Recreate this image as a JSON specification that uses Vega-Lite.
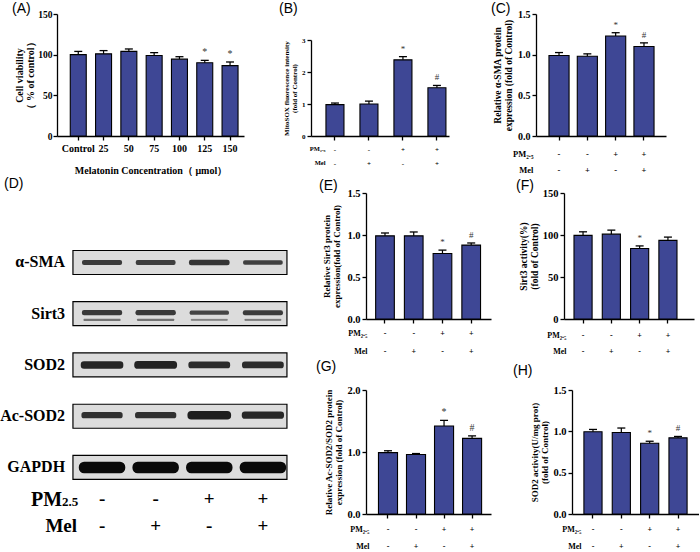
{
  "$schema": "https://vega.github.io/schema/vega-lite/v6.json",
  "padding": {"top": 2, "left": 0, "right": 0, "bottom": 0},
  "columns": 3,
  "align": "each",
  "bounds": "flush",
  "spacing": {"row": 57, "column": 72},
  "config": {
    "view": {"stroke": null},
    "font": "Liberation Serif",
    "axis": {"domainColor": "#000", "domainWidth": 1.3, "tickColor": "#000", "tickWidth": 1.3, "tickSize": 4, "labelColor": "#000", "titleColor": "#000", "labelFontWeight": "bold", "titleFontWeight": "bold", "grid": false, "labelFont": "Liberation Serif", "titleFont": "Liberation Serif"},
    "axisX": {"labelAngle": 0},
    "title": {"font": "Liberation Sans", "fontWeight": "normal", "fontSize": 14, "anchor": "start", "frame": "group", "color": "#000"}
  },
  "datasets": {
    "A": [
      {"conc": "Control", "value": 100, "upper": 104, "sig": ""},
      {"conc": "25", "value": 101, "upper": 105, "sig": ""},
      {"conc": "50", "value": 104, "upper": 107, "sig": ""},
      {"conc": "75", "value": 99, "upper": 102.5, "sig": ""},
      {"conc": "100", "value": 94.5, "upper": 97.5, "sig": ""},
      {"conc": "125", "value": 90, "upper": 93, "sig": "*"},
      {"conc": "150", "value": 86.5, "upper": 91, "sig": "*"}
    ],
    "B": [
      {"cond": "-|-", "value": 0.98, "upper": 1.03, "sig": ""},
      {"cond": "-|+", "value": 1.0, "upper": 1.09, "sig": ""},
      {"cond": "+|-", "value": 2.38, "upper": 2.48, "sig": "*"},
      {"cond": "+|+", "value": 1.51, "upper": 1.58, "sig": "#"}
    ],
    "C": [
      {"cond": "-|-", "value": 0.99, "upper": 1.026, "sig": ""},
      {"cond": "-|+", "value": 0.98, "upper": 1.01, "sig": ""},
      {"cond": "+|-", "value": 1.23, "upper": 1.27, "sig": "*"},
      {"cond": "+|+", "value": 1.1, "upper": 1.145, "sig": "#"}
    ],
    "E": [
      {"cond": "-|-", "value": 0.99, "upper": 1.024, "sig": ""},
      {"cond": "-|+", "value": 0.99, "upper": 1.036, "sig": ""},
      {"cond": "+|-", "value": 0.78, "upper": 0.82, "sig": "*"},
      {"cond": "+|+", "value": 0.88, "upper": 0.905, "sig": "#"}
    ],
    "F": [
      {"cond": "-|-", "value": 99.5, "upper": 103.8, "sig": ""},
      {"cond": "-|+", "value": 101, "upper": 105.8, "sig": ""},
      {"cond": "+|-", "value": 84, "upper": 87, "sig": "*"},
      {"cond": "+|+", "value": 93.6, "upper": 97.5, "sig": ""}
    ],
    "G": [
      {"cond": "-|-", "value": 0.99, "upper": 1.02, "sig": ""},
      {"cond": "-|+", "value": 0.96, "upper": 0.975, "sig": ""},
      {"cond": "+|-", "value": 1.42, "upper": 1.51, "sig": "*"},
      {"cond": "+|+", "value": 1.22, "upper": 1.26, "sig": "#"}
    ],
    "H": [
      {"cond": "-|-", "value": 0.995, "upper": 1.023, "sig": ""},
      {"cond": "-|+", "value": 0.985, "upper": 1.04, "sig": ""},
      {"cond": "+|-", "value": 0.856, "upper": 0.88, "sig": "*"},
      {"cond": "+|+", "value": 0.921, "upper": 0.938, "sig": "#"}
    ],
    "blots": [
      {"protein": "α-SMA", "order": 1},
      {"protein": "Sirt3", "order": 2},
      {"protein": "SOD2", "order": 3},
      {"protein": "Ac-SOD2", "order": 4},
      {"protein": "GAPDH", "order": 5}
    ],
    "bands": [
      {"protein": "α-SMA", "order": 1, "lane": 1, "intensity": 0.34},
      {"protein": "α-SMA", "order": 1, "lane": 2, "intensity": 0.32},
      {"protein": "α-SMA", "order": 1, "lane": 3, "intensity": 0.4},
      {"protein": "α-SMA", "order": 1, "lane": 4, "intensity": 0.3},
      {"protein": "Sirt3", "order": 1.98, "lane": 1, "intensity": 0.36},
      {"protein": "Sirt3", "order": 1.98, "lane": 2, "intensity": 0.36},
      {"protein": "Sirt3", "order": 1.98, "lane": 3, "intensity": 0.26},
      {"protein": "Sirt3", "order": 1.98, "lane": 4, "intensity": 0.34},
      {"protein": "Sirt3", "order": 2.12, "lane": 1, "intensity": 0.05},
      {"protein": "Sirt3", "order": 2.12, "lane": 2, "intensity": 0.05},
      {"protein": "Sirt3", "order": 2.12, "lane": 3, "intensity": 0.03},
      {"protein": "Sirt3", "order": 2.12, "lane": 4, "intensity": 0.04},
      {"protein": "SOD2", "order": 3, "lane": 1, "intensity": 0.58},
      {"protein": "SOD2", "order": 3, "lane": 2, "intensity": 0.6},
      {"protein": "SOD2", "order": 3, "lane": 3, "intensity": 0.5},
      {"protein": "SOD2", "order": 3, "lane": 4, "intensity": 0.5},
      {"protein": "Ac-SOD2", "order": 3.98, "lane": 1, "intensity": 0.45},
      {"protein": "Ac-SOD2", "order": 3.98, "lane": 2, "intensity": 0.45},
      {"protein": "Ac-SOD2", "order": 3.98, "lane": 3, "intensity": 0.68},
      {"protein": "Ac-SOD2", "order": 3.98, "lane": 4, "intensity": 0.55},
      {"protein": "GAPDH", "order": 5, "lane": 1, "intensity": 0.95},
      {"protein": "GAPDH", "order": 5, "lane": 2, "intensity": 0.95},
      {"protein": "GAPDH", "order": 5, "lane": 3, "intensity": 0.95},
      {"protein": "GAPDH", "order": 5, "lane": 4, "intensity": 0.95}
    ],
    "treat": [
      {"lane": 1, "pm": "-", "mel": "-"},
      {"lane": 2, "pm": "-", "mel": "+"},
      {"lane": 3, "pm": "+", "mel": "-"},
      {"lane": 4, "pm": "+", "mel": "+"}
    ]
  },
  "concat": [
    {
      "width": 187, "height": 129,
      "title": {"text": "(A)", "dx": -45, "offset": -9},
      "data": {"name": "A"},
      "encoding": {
        "x": {"field": "conc", "type": "nominal", "sort": null,
          "scale": {"domain": ["Control", "25", "50", "75", "100", "125", "150"], "paddingInner": 0.368, "paddingOuter": 0.38, "align": 0.69},
          "axis": {"labelFontSize": 10, "labelPadding": 3, "title": "Melatonin Concentration（ μmol）", "titleFontSize": 10, "titlePadding": 12}}
      },
      "layer": [
        {"mark": {"type": "bar", "fill": "#3e4795", "stroke": "#000", "strokeWidth": 1.1},
         "encoding": {"y": {"field": "value", "type": "quantitative", "scale": {"domain": [0, 150], "nice": false, "range": [129, 7]},
           "axis": {"values": [0, 50, 100, 150], "labelFontSize": 9.5, "labelPadding": 1, "title": ["Cell viability", "（ % of control）"], "titleFontSize": 10, "titleLineHeight": 11, "titlePadding": 2}}}},
        {"mark": {"type": "rule", "strokeWidth": 1.2, "color": "#000"}, "encoding": {"y": {"field": "value", "type": "quantitative"}, "y2": {"field": "upper"}}},
        {"mark": {"type": "tick", "orient": "horizontal", "size": 8, "thickness": 1.3, "color": "#000", "opacity": 1}, "encoding": {"y": {"field": "upper", "type": "quantitative"}}},
        {"mark": {"type": "text", "dy": -8, "baseline": "middle", "fontSize": 10, "color": "#333"}, "encoding": {"y": {"field": "upper", "type": "quantitative"}, "text": {"field": "sig"}}}
      ]
    },
    {
      "width": 126, "height": 129,
      "title": {"text": "(B)", "dx": -87, "offset": -9},
      "data": {"name": "B"},
      "encoding": {
        "x": {"field": "cond", "type": "nominal", "sort": null,
          "scale": {"domain": ["-|-", "-|+", "+|-", "+|+"], "range": [-55, 83], "paddingInner": 0.47, "paddingOuter": 0.265, "align": 0.83},
          "axis": {"labelExpr": "split(datum.label, '|')", "labelFontSize": 7, "labelLineHeight": 14, "labelPadding": 5.5, "labelBaseline": "top",
            "title": ["PM₂.₅", "Mel"], "titleFontSize": 6.5, "titleLineHeight": 14, "titleX": -41, "titleY": 9.5, "titleAlign": "right", "titleBaseline": "top", "titleAngle": 0}}
      },
      "layer": [
        {"mark": {"type": "bar", "fill": "#3e4795", "stroke": "#000", "strokeWidth": 1.1},
         "encoding": {"y": {"field": "value", "type": "quantitative", "scale": {"domain": [0, 3], "nice": false, "range": [129, 33]},
           "axis": {"offset": 55, "values": [0, 1, 2, 3], "labelFontSize": 7, "labelPadding": 2, "title": ["MitoSOX  fluorescence intensity", "(fold of Control)"], "titleFontSize": 7, "titleLineHeight": 8, "titlePadding": 4}}}},
        {"mark": {"type": "rule", "strokeWidth": 1.2, "color": "#000"}, "encoding": {"y": {"field": "value", "type": "quantitative"}, "y2": {"field": "upper"}}},
        {"mark": {"type": "tick", "orient": "horizontal", "size": 8, "thickness": 1.3, "color": "#000", "opacity": 1}, "encoding": {"y": {"field": "upper", "type": "quantitative"}}},
        {"mark": {"type": "text", "dy": -8, "baseline": "middle", "fontSize": 9, "color": "#333"}, "encoding": {"y": {"field": "upper", "type": "quantitative"}, "text": {"field": "sig"}}}
      ]
    },
    {
      "width": 126, "height": 129,
      "title": {"text": "(C)", "dx": -73, "offset": -9},
      "data": {"name": "C"},
      "encoding": {
        "x": {"field": "cond", "type": "nominal", "sort": null,
          "scale": {"domain": ["-|-", "-|+", "+|-", "+|+"], "range": [-28, 102], "paddingInner": 0.29, "paddingOuter": 0.44, "align": 0.52},
          "axis": {"labelExpr": "split(datum.label, '|')", "labelFontSize": 8.5, "labelLineHeight": 16, "labelPadding": 9, "labelBaseline": "top",
            "title": ["PM₂.₅", "Mel"], "titleFontSize": 8.5, "titleLineHeight": 16, "titleX": -31, "titleY": 13, "titleAlign": "right", "titleBaseline": "top", "titleAngle": 0}}
      },
      "layer": [
        {"mark": {"type": "bar", "fill": "#3e4795", "stroke": "#000", "strokeWidth": 1.1},
         "encoding": {"y": {"field": "value", "type": "quantitative", "scale": {"domain": [0, 1.5], "nice": false, "range": [129, 7]},
           "axis": {"offset": 28, "values": [0, 0.5, 1, 1.5], "format": ".1f", "labelFontSize": 10, "labelPadding": 2, "title": ["Relative α-SMA protein", "expression (fold of Control)"], "titleFontSize": 9.5, "titleLineHeight": 11, "titlePadding": 4}}}},
        {"mark": {"type": "rule", "strokeWidth": 1.2, "color": "#000"}, "encoding": {"y": {"field": "value", "type": "quantitative"}, "y2": {"field": "upper"}}},
        {"mark": {"type": "tick", "orient": "horizontal", "size": 8, "thickness": 1.3, "color": "#000", "opacity": 1}, "encoding": {"y": {"field": "upper", "type": "quantitative"}}},
        {"mark": {"type": "text", "dy": -8, "baseline": "middle", "fontSize": 9, "color": "#333"}, "encoding": {"y": {"field": "upper", "type": "quantitative"}, "text": {"field": "sig"}}}
      ]
    },
    {
      "width": 237, "height": 126,
      "title": {"text": "(D)", "dx": -53, "offset": 2},
      "layer": [
        {"data": {"name": "blots"}, "transform": [{"filter": "datum.order <= 3"}],
         "mark": {"type": "tick", "orient": "horizontal", "size": 214, "thickness": 24, "fill": "#dcdcdc", "stroke": "#000", "strokeWidth": 1.2, "opacity": 1},
         "encoding": {
           "x": {"datum": 2.453, "type": "quantitative", "scale": {"domain": [0.16, 4.58], "nice": false, "zero": false}, "axis": null},
           "y": {"field": "order", "type": "quantitative", "scale": {"domain": [-0.356, 2.103], "reverse": true, "nice": false, "zero": false}, "axis": null}}},
        {"data": {"name": "bands"}, "transform": [{"filter": "datum.order <= 3"}],
         "mark": {"type": "tick", "orient": "horizontal", "size": 36, "thickness": 1, "strokeJoin": "round", "opacity": 1},
         "encoding": {
           "x": {"field": "lane", "type": "quantitative"},
           "y": {"field": "order", "type": "quantitative"},
           "color": {"field": "intensity", "type": "quantitative", "scale": {"type": "pow", "exponent": 0.4, "domain": [0, 1], "range": ["#a8a8a8", "#050505"]}, "legend": null},
           "stroke": {"field": "intensity", "type": "quantitative", "scale": {"type": "pow", "exponent": 0.4, "domain": [0, 1], "range": ["#a8a8a8", "#050505"]}, "legend": null},
           "strokeWidth": {"field": "intensity", "type": "quantitative", "scale": {"domain": [0, 1], "range": [0.5, 11]}, "legend": null}}},
        {"data": {"name": "blots"}, "transform": [{"filter": "datum.order <= 3"}],
         "mark": {"type": "text", "align": "right", "baseline": "middle", "fontSize": 16, "fontWeight": "bold"},
         "encoding": {"x": {"datum": 0.311, "type": "quantitative"}, "y": {"field": "order", "type": "quantitative"}, "text": {"field": "protein"}}}
      ]
    },
    {
      "width": 126, "height": 126,
      "title": {"text": "(E)", "dx": -47, "offset": -5},
      "data": {"name": "E"},
      "encoding": {
        "x": {"field": "cond", "type": "nominal", "sort": null,
          "scale": {"domain": ["-|-", "-|+", "+|-", "+|+"], "range": [0, 125], "paddingInner": 0.35, "paddingOuter": 0.35, "align": 0.48},
          "axis": {"labelExpr": "split(datum.label, '|')", "labelFontSize": 8, "labelLineHeight": 18, "labelPadding": 6, "labelBaseline": "top",
            "title": ["PM₂.₅", "Mel"], "titleFontSize": 8, "titleLineHeight": 18, "titleX": 1, "titleY": 10, "titleAlign": "right", "titleBaseline": "top", "titleAngle": 0}}
      },
      "layer": [
        {"mark": {"type": "bar", "fill": "#3e4795", "stroke": "#000", "strokeWidth": 1.1},
         "encoding": {"y": {"field": "value", "type": "quantitative", "scale": {"domain": [0, 1.5], "nice": false},
           "axis": {"values": [0, 0.5, 1, 1.5], "format": ".1f", "labelFontSize": 10.5, "labelPadding": 2, "title": ["Relative Sirt3 protein", "expression(fold of Control)"], "titleFontSize": 9, "titleLineHeight": 10.5, "titlePadding": 5}}}},
        {"mark": {"type": "rule", "strokeWidth": 1.2, "color": "#000"}, "encoding": {"y": {"field": "value", "type": "quantitative"}, "y2": {"field": "upper"}}},
        {"mark": {"type": "tick", "orient": "horizontal", "size": 8, "thickness": 1.3, "color": "#000", "opacity": 1}, "encoding": {"y": {"field": "upper", "type": "quantitative"}}},
        {"mark": {"type": "text", "dy": -8, "baseline": "middle", "fontSize": 9, "color": "#333"}, "encoding": {"y": {"field": "upper", "type": "quantitative"}, "text": {"field": "sig"}}}
      ]
    },
    {
      "width": 130, "height": 126,
      "title": {"text": "(F)", "dx": -48, "offset": -5},
      "data": {"name": "F"},
      "encoding": {
        "x": {"field": "cond", "type": "nominal", "sort": null,
          "scale": {"domain": ["-|-", "-|+", "+|-", "+|+"], "paddingInner": 0.36, "paddingOuter": 0.477, "align": 0.37},
          "axis": {"labelExpr": "split(datum.label, '|')", "labelFontSize": 8, "labelLineHeight": 16, "labelPadding": 8, "labelBaseline": "top",
            "title": ["PM₂.₅", "Mel"], "titleFontSize": 8, "titleLineHeight": 16, "titleX": 2, "titleY": 12, "titleAlign": "right", "titleBaseline": "top", "titleAngle": 0}}
      },
      "layer": [
        {"mark": {"type": "bar", "fill": "#3e4795", "stroke": "#000", "strokeWidth": 1.1},
         "encoding": {"y": {"field": "value", "type": "quantitative", "scale": {"domain": [0, 150], "nice": false},
           "axis": {"values": [0, 50, 100, 150], "labelFontSize": 10.5, "labelPadding": 2, "title": ["Sirt3 activity(%)", "(fold of Control)"], "titleFontSize": 9.5, "titleLineHeight": 11, "titlePadding": 3}}}},
        {"mark": {"type": "rule", "strokeWidth": 1.2, "color": "#000"}, "encoding": {"y": {"field": "value", "type": "quantitative"}, "y2": {"field": "upper"}}},
        {"mark": {"type": "tick", "orient": "horizontal", "size": 8, "thickness": 1.3, "color": "#000", "opacity": 1}, "encoding": {"y": {"field": "upper", "type": "quantitative"}}},
        {"mark": {"type": "text", "dy": -8, "baseline": "middle", "fontSize": 9, "color": "#333"}, "encoding": {"y": {"field": "upper", "type": "quantitative"}, "text": {"field": "sig"}}}
      ]
    },
    {
      "width": 237, "height": 138,
      "layer": [
        {"data": {"name": "blots"}, "transform": [{"filter": "datum.order > 3"}],
         "mark": {"type": "tick", "orient": "horizontal", "size": 214, "thickness": 24, "fill": "#dcdcdc", "stroke": "#000", "strokeWidth": 1.2, "opacity": 1},
         "encoding": {
           "x": {"datum": 2.453, "type": "quantitative", "scale": {"domain": [0.16, 4.58], "nice": false, "zero": false}, "axis": null},
           "y": {"field": "order", "type": "quantitative", "scale": {"domain": [3.215, 5.908], "reverse": true, "nice": false, "zero": false}, "axis": null}}},
        {"data": {"name": "bands"}, "transform": [{"filter": "datum.order > 3"}],
         "mark": {"type": "tick", "orient": "horizontal", "size": 36, "thickness": 1, "strokeJoin": "round", "opacity": 1},
         "encoding": {
           "x": {"field": "lane", "type": "quantitative"},
           "y": {"field": "order", "type": "quantitative"},
           "color": {"field": "intensity", "type": "quantitative", "scale": {"type": "pow", "exponent": 0.4, "domain": [0, 1], "range": ["#a8a8a8", "#050505"]}, "legend": null},
           "stroke": {"field": "intensity", "type": "quantitative", "scale": {"type": "pow", "exponent": 0.4, "domain": [0, 1], "range": ["#a8a8a8", "#050505"]}, "legend": null},
           "strokeWidth": {"field": "intensity", "type": "quantitative", "scale": {"domain": [0, 1], "range": [0.5, 11]}, "legend": null}}},
        {"data": {"name": "blots"}, "transform": [{"filter": "datum.order > 3"}],
         "mark": {"type": "text", "align": "right", "baseline": "middle", "fontSize": 16, "fontWeight": "bold"},
         "encoding": {"x": {"datum": 0.311, "type": "quantitative"}, "y": {"field": "order", "type": "quantitative"}, "text": {"field": "protein"}}},
        {"data": {"name": "treat"},
         "mark": {"type": "text", "align": "center", "baseline": "middle", "fontSize": 19, "fontWeight": "bold"},
         "encoding": {"x": {"field": "lane", "type": "quantitative"}, "y": {"datum": 5.615, "type": "quantitative"}, "text": {"field": "pm"}}},
        {"data": {"name": "treat"},
         "mark": {"type": "text", "align": "center", "baseline": "middle", "fontSize": 19, "fontWeight": "bold"},
         "encoding": {"x": {"field": "lane", "type": "quantitative"}, "y": {"datum": 6.141, "type": "quantitative"}, "text": {"field": "mel"}}},
        {"data": {"values": [{"factor": "PM", "sub": "2.5"}]},
         "mark": {"type": "text", "align": "right", "baseline": "alphabetic", "dy": 7, "fontSize": 20, "fontWeight": "bold"},
         "encoding": {"x": {"datum": 0.255, "type": "quantitative"}, "y": {"datum": 5.615, "type": "quantitative"}, "text": {"field": "factor"}}},
        {"data": {"values": [{"factor": "PM", "sub": "2.5"}]},
         "mark": {"type": "text", "align": "left", "baseline": "alphabetic", "dy": 7, "fontSize": 13, "fontWeight": "bold"},
         "encoding": {"x": {"datum": 0.255, "type": "quantitative"}, "y": {"datum": 5.615, "type": "quantitative"}, "text": {"field": "sub"}}},
        {"data": {"values": [{"factor": "Mel"}]},
         "mark": {"type": "text", "align": "right", "baseline": "alphabetic", "dy": 6.5, "fontSize": 19, "fontWeight": "bold"},
         "encoding": {"x": {"datum": 0.534, "type": "quantitative"}, "y": {"datum": 6.141, "type": "quantitative"}, "text": {"field": "factor"}}}
      ]
    },
    {
      "width": 126, "height": 138,
      "title": {"text": "(G)", "dx": -50, "offset": 2},
      "data": {"name": "G"},
      "encoding": {
        "x": {"field": "cond", "type": "nominal", "sort": null,
          "scale": {"domain": ["-|-", "-|+", "+|-", "+|+"], "range": [0, 125], "paddingInner": 0.32, "paddingOuter": 0.39, "align": 0.57},
          "axis": {"labelExpr": "split(datum.label, '|')", "labelFontSize": 8, "labelLineHeight": 17, "labelPadding": 7, "labelBaseline": "top",
            "title": ["PM₂.₅", "Mel"], "titleFontSize": 8, "titleLineHeight": 17, "titleX": 3, "titleY": 11, "titleAlign": "right", "titleBaseline": "top", "titleAngle": 0}}
      },
      "layer": [
        {"mark": {"type": "bar", "fill": "#3e4795", "stroke": "#000", "strokeWidth": 1.1},
         "encoding": {"y": {"field": "value", "type": "quantitative", "scale": {"domain": [0, 2], "nice": false, "range": [138, 14]},
           "axis": {"values": [0, 0.5, 1, 1.5, 2], "format": ".1f", "labelFontSize": 10.5, "labelPadding": 2, "title": ["Relative Ac-SOD2/SOD2 protein", "expression (fold of Control)"], "titleFontSize": 9, "titleLineHeight": 10.5, "titlePadding": 3}}}},
        {"mark": {"type": "rule", "strokeWidth": 1.2, "color": "#000"}, "encoding": {"y": {"field": "value", "type": "quantitative"}, "y2": {"field": "upper"}}},
        {"mark": {"type": "tick", "orient": "horizontal", "size": 8, "thickness": 1.3, "color": "#000", "opacity": 1}, "encoding": {"y": {"field": "upper", "type": "quantitative"}}},
        {"mark": {"type": "text", "dy": -8, "baseline": "middle", "fontSize": 10, "color": "#333"}, "encoding": {"y": {"field": "upper", "type": "quantitative"}, "text": {"field": "sig"}}}
      ]
    },
    {
      "width": 135, "height": 138,
      "title": {"text": "(H)", "dx": -51, "offset": -2},
      "data": {"name": "H"},
      "encoding": {
        "x": {"field": "cond", "type": "nominal", "sort": null,
          "scale": {"domain": ["-|-", "-|+", "+|-", "+|+"], "range": [8, 135], "paddingInner": 0.36, "paddingOuter": 0.42, "align": 0.5},
          "axis": {"labelExpr": "split(datum.label, '|')", "labelFontSize": 8, "labelLineHeight": 17, "labelPadding": 7, "labelBaseline": "top",
            "title": ["PM₂.₅", "Mel"], "titleFontSize": 8, "titleLineHeight": 17, "titleX": 17, "titleY": 11, "titleAlign": "right", "titleBaseline": "top", "titleAngle": 0}}
      },
      "layer": [
        {"mark": {"type": "bar", "fill": "#3e4795", "stroke": "#000", "strokeWidth": 1.1},
         "encoding": {"y": {"field": "value", "type": "quantitative", "scale": {"domain": [0, 1.5], "nice": false, "range": [138, 14]},
           "axis": {"offset": -8, "values": [0, 0.5, 1, 1.5], "format": ".1f", "labelFontSize": 10.5, "labelPadding": 2, "title": ["SOD2 activity(U/mg prot)", "(fold of Control)"], "titleFontSize": 9, "titleLineHeight": 10.5, "titlePadding": 3}}}},
        {"mark": {"type": "rule", "strokeWidth": 1.2, "color": "#000"}, "encoding": {"y": {"field": "value", "type": "quantitative"}, "y2": {"field": "upper"}}},
        {"mark": {"type": "tick", "orient": "horizontal", "size": 8, "thickness": 1.3, "color": "#000", "opacity": 1}, "encoding": {"y": {"field": "upper", "type": "quantitative"}}},
        {"mark": {"type": "text", "dy": -8, "baseline": "middle", "fontSize": 9, "color": "#333"}, "encoding": {"y": {"field": "upper", "type": "quantitative"}, "text": {"field": "sig"}}}
      ]
    }
  ]
}
